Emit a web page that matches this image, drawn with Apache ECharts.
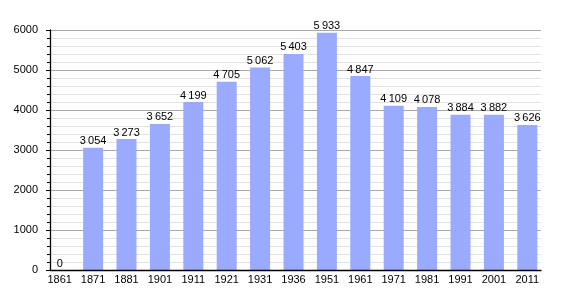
<!DOCTYPE html>
<html><head><meta charset="utf-8">
<script src="https://cdn.jsdelivr.net/npm/echarts@6/dist/echarts.min.js"></script>
<style>html,body{margin:0;padding:0;background:#fff}#c{width:570px;height:300px}</style>
</head><body><div id="c"></div>
<script>
var categories = ['1861','1871','1881','1901','1911','1921','1931','1936','1951','1961','1971','1981','1991','2001','2011'];
var values = [0,3054,3273,3652,4199,4705,5062,5403,5933,4847,4109,4078,3884,3882,3626];
var yTicks = [0,1000,2000,3000,4000,5000,6000];

var font = 'Liberation Sans, Arial, sans-serif';
function fmt(v){ return String(v).replace(/\B(?=(\d{3})+(?!\d))/g, '\u2009'); }

var chart = echarts.init(document.getElementById('c'), null, {renderer:'canvas'});
chart.setOption({
  animation:false,
  backgroundColor:'#fff',
  grid:[
    {left:50,right:29,top:30,bottom:30},
    {left:43,right:26,top:30,bottom:30}
  ],
  xAxis:[
    {gridIndex:0,type:'category',data:categories,axisLine:{show:true,lineStyle:{color:'#000',width:1.3}},axisTick:{show:false},axisLabel:{show:false},splitLine:{show:false},z:10},
    {gridIndex:1,type:'category',data:categories,axisLine:{show:false},axisTick:{show:false},
     axisLabel:{color:'#000',fontSize:11,fontFamily:font,margin:4},splitLine:{show:false}}
  ],
  yAxis:[
    {gridIndex:0,type:'value',min:yTicks[0],max:yTicks[yTicks.length-1],interval:1000,
     axisLine:{show:true,lineStyle:{color:'#000',width:1.3}},
     axisTick:{show:true,inside:false,length:4,lineStyle:{color:'#000'}},
     minorTick:{show:true,splitNumber:5,length:3,lineStyle:{color:'#000'}},
     axisLabel:{color:'#000',fontSize:11,fontFamily:font,margin:12,formatter:function(v){return String(v);}},
     splitLine:{show:true,lineStyle:{color:'#a8a8a8',width:1}},
     minorSplitLine:{show:true,lineStyle:{color:'#e2e2e2',width:1}},z:0},
    {gridIndex:1,type:'value',min:0,max:6000,show:false,splitLine:{show:false}}
  ],
  series:[{
    type:'bar',xAxisIndex:1,yAxisIndex:1,data:values,barWidth:20,z:5,
    itemStyle:{color:'#99aaff'},
    label:{show:true,position:'top',distance:1,color:'#000',fontSize:11,fontFamily:font,
      formatter:function(p){return fmt(p.value);}}
  }]
});
</script></body></html>
